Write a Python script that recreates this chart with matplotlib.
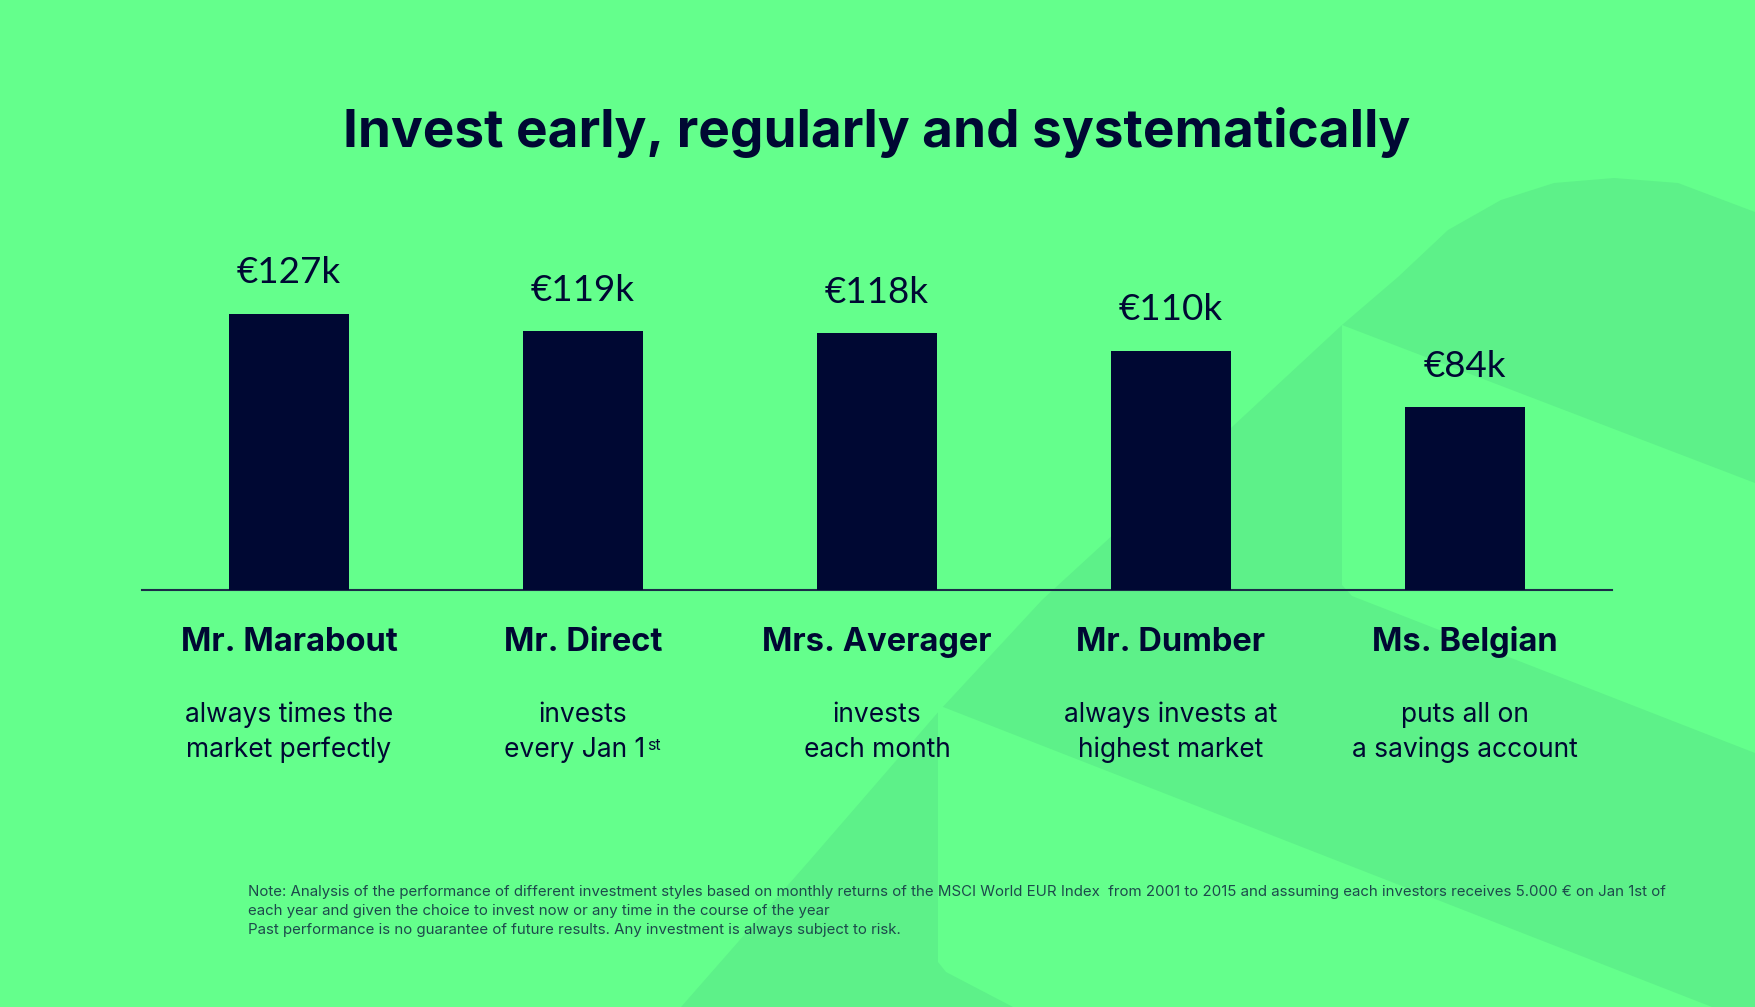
import matplotlib
matplotlib.use("Agg")
import matplotlib.pyplot as plt
import matplotlib.transforms as mtransforms
from matplotlib.patches import Polygon

# data
names = ["Mr. Marabout", "Mr. Direct", "Mrs. Averager", "Mr. Dumber", "Ms. Belgian"]
values = [127, 119, 118, 110, 84]
value_labels = ["€127k", "€119k", "€118k", "€110k", "€84k"]
desc_top = ["always times the", "invests", "invests", "always invests at", "puts all on"]
desc_bottom = ["market perfectly", "every Jan 1", "each month", "highest market", "a savings account"]
title = "Invest early, regularly and systematically"
note_lines = [
    "Note: Analysis of the performance of different investment styles based on monthly returns of the MSCI World EUR Index  "
    "from 2001 to 2015 and assuming each investors receives 5.000 € on Jan 1st of",
    "each year and given the choice to invest now or any time in the course of the year",
    "Past performance is no guarantee of future results. Any investment is always subject to risk.",
]

BG = "#64FF8C"
SHADE = "#5DF189"
NAVY = "#000833"
NOTE = "#1d4a4c"

W, H = 1755, 1007


def px(points):
    # pixel coords (top-left origin) -> figure fraction
    return [(x / W, 1 - y / H) for x, y in points]


fig = plt.figure(figsize=(W / 100, H / 100), dpi=100, facecolor=BG)

# faint logo shapes in the background
logo = px([(681, 1007), (810, 860), (940, 710), (1042, 600), (1140, 510), (1232, 427),
           (1342, 325), (1398, 277), (1448, 230), (1501, 200), (1554, 183), (1614, 178),
           (1678, 183), (1755, 212), (1755, 1007)])
cut_upper = px([(1342, 325), (1755, 483), (1755, 753), (1352, 596), (1342, 585)])
cut_lower = px([(938, 705), (1712, 1007), (1013, 1007), (946, 972), (938, 962)])
fig.add_artist(Polygon(logo, closed=True, transform=fig.transFigure,
                       facecolor=SHADE, edgecolor="none", zorder=0))
for cut in (cut_upper, cut_lower):
    fig.add_artist(Polygon(cut, closed=True, transform=fig.transFigure,
                           facecolor=BG, edgecolor="none", zorder=0))

ax = fig.add_axes([142 / W, 1 - 590 / H, 1470 / W, 440 / H])
ax.set_facecolor("none")
xs = list(range(len(values)))
ax.bar(xs, values, width=0.405, color=NAVY, zorder=3)
ax.set_xlim(-0.5, 4.5)
ax.set_ylim(0, 440 / 2.175)
for side in ("top", "right", "left"):
    ax.spines[side].set_visible(False)
ax.spines["bottom"].set_color("#1b2c48")
ax.spines["bottom"].set_linewidth(1.5)
ax.set_xticks([])
ax.set_yticks([])

for x, v, lbl in zip(xs, values, value_labels):
    ax.annotate(lbl, (x, v), xytext=(0, 22), textcoords="offset points",
                ha="center", va="baseline", fontsize=26.5, family=["Lato", "DejaVu Sans"],
                color=NAVY)

tr = mtransforms.blended_transform_factory(ax.transData, fig.transFigure)
for x, name, d1, d2 in zip(xs, names, desc_top, desc_bottom):
    ax.text(x, 1 - 651 / H, name, transform=tr, ha="center", va="baseline",
            fontsize=23.5, fontweight="bold", family=["Inter", "DejaVu Sans"], color=NAVY)
    ax.text(x, 1 - 722 / H, d1, transform=tr, ha="center", va="baseline",
            fontsize=19, family=["Inter", "DejaVu Sans"], color=NAVY)
    if d2.endswith("Jan 1"):
        shift = tr + mtransforms.ScaledTranslation(-6 / 72, 0, fig.dpi_scale_trans)
        t = ax.text(x, 1 - 757 / H, d2, transform=shift, ha="center", va="baseline",
                    fontsize=19, family=["Inter", "DejaVu Sans"], color=NAVY)
        ax.annotate("st", xy=(1, 1), xycoords=t, xytext=(1, -1), textcoords="offset points",
                    ha="left", va="top", fontsize=11.5, family=["Inter", "DejaVu Sans"], color=NAVY)
    else:
        ax.text(x, 1 - 757 / H, d2, transform=tr, ha="center", va="baseline",
                fontsize=19, family=["Inter", "DejaVu Sans"], color=NAVY)

fig.text(877 / W, 1 - 147 / H, title, ha="center", va="baseline", fontsize=38.2,
         fontweight="bold", family=["Inter", "DejaVu Sans"], color=NAVY)

for i, line in enumerate(note_lines):
    fig.text(248 / W, 1 - (896 + 19 * i) / H, line, ha="left", va="baseline",
             fontsize=10.8, family=["Inter", "DejaVu Sans"], color=NOTE)

fig.savefig("out.png", dpi=100, facecolor=BG)
